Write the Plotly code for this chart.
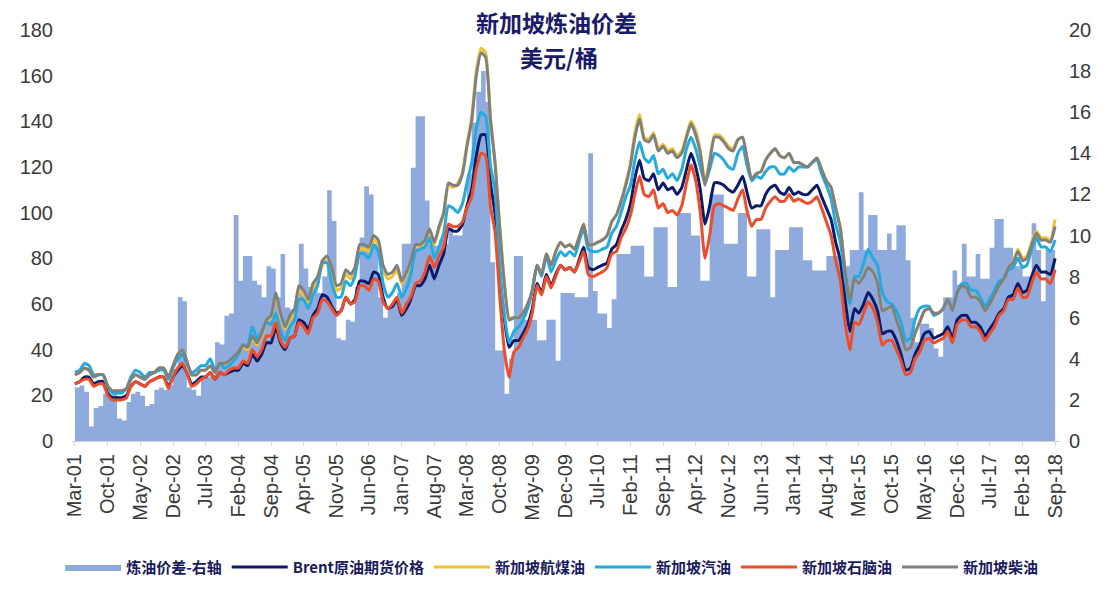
import pandas as pd
import plotly.graph_objects as go

# ---------------- data (monthly, Mar-2001 .. Sep-2018) ----------------
start_month = "2001-03-01"
n_months = 211

spread = [  # 炼油价差 (right axis, USD/bbl)
    2.6, 2.7, 2.4, 0.7, 1.6, 1.7, 2.3, 2.2, 2.3, 1.1,
    1.0, 1.9, 2.3, 2.4, 2.2, 1.7, 1.8, 2.5, 2.6, 2.5, 2.7, 3.5,
    7.0, 6.8, 2.6, 2.5, 2.2, 3.0, 3.1, 3.2, 4.8, 4.7, 6.1, 6.2,
    11.0, 7.8, 9.0, 9.0, 7.8, 7.6, 7.0, 8.5, 8.4, 7.0, 9.1, 6.5,
    6.4, 6.6, 9.6, 8.4, 7.5, 7.5, 7.2, 8.0, 12.2, 10.7, 5.0, 4.9,
    5.9, 5.8, 7.5, 9.9, 12.4, 12.0, 9.6, 7.0, 6.0, 6.5, 6.8, 7.2,
    9.6, 9.6, 13.3, 15.8, 15.8, 11.7, 9.6, 9.5, 9.8, 9.6, 10.5, 10.0,
    10.0, 11.0, 13.0, 15.5, 17.0, 18.0, 16.5, 8.7, 4.4, 4.4, 2.3, 4.0,
    9.0, 9.0, 5.9, 5.9, 5.9, 4.9, 4.9, 5.9, 5.9, 3.9, 7.2, 7.2,
    7.2, 7.0, 7.0, 7.0, 14.0, 7.3, 6.2, 6.2, 5.5, 6.9, 9.1, 9.1,
    9.1, 9.5, 9.5, 9.5, 8.0, 8.0, 10.4, 10.4, 10.4, 7.5, 7.5, 11.1,
    11.1, 11.1, 10.0, 10.0, 7.8, 7.8, 12.0, 12.0, 12.0, 9.6, 9.6, 9.6,
    11.1, 11.1, 8.0, 8.0, 10.3, 10.3, 10.3, 7.0, 9.3, 9.3, 9.3, 10.4,
    10.4, 10.4, 8.8, 8.8, 8.3, 8.3, 8.3, 9.0, 9.0, 9.0, 9.0, 8.5,
    9.3, 9.3, 12.1, 9.3, 11.0, 11.0, 9.3, 9.3, 10.1, 9.3, 10.5, 10.5,
    8.8, 6.0, 4.8, 5.7, 5.7, 5.5, 4.5, 4.1, 7.0, 7.0, 8.3, 7.6,
    9.6, 8.0, 8.0, 9.1, 7.9, 7.9, 9.4, 10.8, 10.8, 9.4, 9.4, 8.5,
    8.5, 8.0, 8.0, 10.6, 9.3, 6.8, 9.3, 9.3, 12.8,
]

brent = [  # Brent原油期货价格
    25, 26, 28, 28, 25, 26, 26, 21, 19, 19,
    19, 20, 24, 26, 25, 24, 26, 27, 28, 28, 24, 28,
    31, 33, 30, 25, 26, 28, 28, 30, 27, 30, 29, 30,
    31, 31, 34, 33, 38, 35, 38, 43, 43, 50, 43, 40,
    45, 46, 53, 52, 49, 55, 58, 64, 63, 59, 56, 57,
    63, 60, 62, 70, 70, 69, 74, 73, 63, 58, 59, 62,
    55, 58, 62, 68, 68, 71, 77, 71, 77, 82, 93, 92,
    92, 95, 103, 110, 125, 134, 134, 113, 99, 73, 53, 41,
    44, 44, 47, 51, 58, 69, 65, 73, 68, 73, 77, 75,
    76, 74, 79, 85, 76, 75, 76, 77, 78, 84, 86, 92,
    97, 104, 115, 123, 115, 114, 117, 110, 113, 110, 111, 108,
    111, 119, 126, 120, 110, 95, 103, 113, 113, 112, 110, 109,
    112, 116, 109, 102, 103, 103, 108, 111, 112, 109, 108, 111,
    108, 109, 108, 108, 110, 112, 107, 102, 97, 87, 79, 62,
    48, 58, 56, 60, 65, 62, 57, 47, 48, 48, 44, 38,
    31, 32, 38, 42, 47, 48, 45, 46, 47, 50, 45, 53,
    55, 55, 52, 52, 50, 46, 49, 52, 56, 58, 63, 64,
    69, 65, 66, 72, 77, 74, 74, 73, 80,
]

jet = [  # 新加坡航煤油
    29, 30, 32, 31, 28, 29, 29, 24, 22, 22,
    22, 23, 27, 29, 28, 27, 29, 30, 32, 32, 28, 33,
    38, 40, 35, 29, 29, 31, 31, 33, 30, 34, 34, 35,
    36, 38, 41, 40, 45, 42, 46, 52, 54, 64, 55, 49,
    53, 56, 66, 64, 60, 67, 70, 77, 79, 74, 66, 67,
    73, 71, 74, 84, 84, 83, 88, 86, 75, 71, 72, 75,
    69, 73, 78, 85, 85, 87, 92, 86, 93, 99, 112, 111,
    113, 118, 130, 142, 162, 172, 170, 142, 122, 94, 69, 54,
    54, 54, 56, 60, 66, 77, 73, 82, 77, 83, 87, 85,
    86, 84, 89, 95, 86, 86, 87, 88, 90, 96, 99, 105,
    113, 122, 135, 143, 133, 132, 135, 128, 130, 127, 128, 125,
    127, 134, 140, 136, 127, 113, 123, 134, 134, 132, 129, 128,
    132, 133, 124, 115, 117, 118, 123, 126, 128, 125, 124, 126,
    122, 122, 121, 120, 122, 124, 119, 114, 111, 102, 93, 75,
    62, 71, 69, 72, 76, 74, 69, 57, 58, 59, 53, 47,
    40, 41, 47, 52, 57, 58, 56, 56, 58, 62, 57, 65,
    68, 67, 63, 63, 61, 57, 60, 64, 68, 71, 76, 78,
    84, 80, 81, 87, 92, 89, 89, 88, 97,
]

gasoline = [  # 新加坡汽油
    30, 31, 34, 33, 29, 29, 29, 24, 21, 21,
    21, 23, 28, 31, 30, 28, 30, 30, 31, 31, 27, 32,
    36, 38, 34, 30, 31, 33, 33, 36, 31, 34, 32, 33,
    35, 38, 42, 42, 50, 45, 48, 52, 51, 56, 48, 44,
    50, 53, 62, 62, 58, 64, 68, 78, 78, 69, 63, 63,
    70, 68, 72, 82, 82, 80, 86, 83, 69, 63, 65, 69,
    63, 67, 73, 83, 84, 85, 89, 80, 85, 91, 103, 102,
    100, 104, 113, 122, 137, 144, 142, 121, 109, 76, 55, 43,
    48, 50, 53, 58, 66, 77, 72, 81, 74, 79, 83, 81,
    83, 81, 87, 93, 84, 83, 83, 84, 85, 91, 94, 100,
    107, 112, 123, 131, 124, 122, 125, 117, 119, 115, 117, 114,
    119, 128, 133, 128, 120, 113, 119, 126, 125, 123, 120, 119,
    126, 129, 121, 114, 116, 115, 118, 120, 120, 117, 117, 120,
    118, 120, 120, 120, 122, 123, 117, 112, 106, 95, 87, 71,
    60, 72, 72, 78, 84, 80, 77, 65, 61, 60, 57, 52,
    44, 45, 53, 58, 59, 59, 55, 56, 58, 62, 58, 65,
    69, 69, 66, 66, 63, 59, 62, 66, 70, 71, 75, 76,
    80, 76, 77, 84, 89, 85, 85, 83, 88,
]

naphtha = [  # 新加坡石脑油
    25, 26, 27, 27, 24, 25, 25, 20, 18, 18,
    18, 19, 24, 26, 25, 24, 26, 27, 28, 28, 23, 28,
    32, 34, 30, 24, 25, 27, 28, 30, 27, 30, 29, 31,
    32, 32, 35, 34, 40, 37, 40, 46, 46, 52, 44, 41,
    45, 46, 52, 50, 47, 54, 56, 62, 61, 58, 55, 57,
    63, 60, 61, 68, 68, 66, 71, 70, 61, 58, 60, 63,
    56, 60, 63, 69, 70, 74, 81, 76, 81, 85, 95, 94,
    94, 96, 102, 107, 119, 126, 125, 103, 91, 63, 39, 28,
    39, 41, 45, 49, 56, 68, 64, 72, 67, 72, 77, 75,
    76, 74, 78, 83, 73, 72, 73, 74, 76, 82, 83, 89,
    93, 99, 108, 116, 108, 107, 110, 102, 104, 100, 101, 99,
    103, 113, 121, 114, 100, 80, 90, 103, 104, 103, 102, 101,
    106, 110, 101, 94, 97, 97, 102, 105, 107, 105, 105, 108,
    105, 106, 105, 104, 105, 107, 102, 96, 90, 79, 70, 52,
    40, 52, 51, 56, 61, 58, 52, 42, 44, 44, 40, 35,
    29, 30, 36, 39, 44, 45, 43, 44, 45, 48, 43, 51,
    53, 53, 50, 50, 48, 44, 47, 50, 55, 57, 62, 62,
    67, 63, 63, 69, 74, 71, 71, 69, 75,
]

diesel = [  # 新加坡柴油
    29, 30, 32, 31, 28, 29, 29, 24, 22, 22,
    22, 23, 27, 29, 28, 27, 29, 30, 32, 32, 28, 33,
    38, 40, 35, 29, 29, 31, 31, 33, 30, 34, 34, 35,
    37, 39, 42, 41, 46, 43, 47, 53, 55, 65, 56, 50,
    55, 58, 68, 66, 62, 69, 72, 79, 81, 76, 68, 69,
    75, 73, 76, 86, 86, 85, 90, 88, 77, 73, 74, 77,
    70, 74, 79, 86, 86, 88, 93, 87, 94, 100, 113, 112,
    112, 117, 129, 140, 160, 170, 168, 141, 121, 93, 68, 53,
    54, 54, 56, 60, 66, 77, 73, 82, 77, 83, 87, 85,
    86, 84, 89, 95, 86, 86, 87, 88, 90, 96, 99, 105,
    112, 121, 133, 141, 132, 131, 134, 127, 129, 126, 127, 124,
    126, 133, 139, 134, 126, 112, 122, 133, 133, 131, 128, 127,
    132, 133, 124, 115, 117, 118, 123, 126, 128, 125, 124, 126,
    122, 122, 121, 120, 122, 124, 119, 114, 111, 102, 93, 75,
    62, 71, 69, 72, 76, 74, 69, 57, 58, 59, 53, 47,
    40, 41, 47, 52, 57, 58, 56, 56, 58, 62, 57, 65,
    68, 67, 63, 63, 61, 57, 60, 64, 68, 71, 76, 78,
    83, 79, 80, 86, 91, 88, 88, 87, 94,
]

tick_labels = [
    "Mar-01", "Oct-01", "May-02", "Dec-02", "Jul-03", "Feb-04", "Sep-04",
    "Apr-05", "Nov-05", "Jun-06", "Jan-07", "Aug-07", "Mar-08", "Oct-08",
    "May-09", "Dec-09", "Jul-10", "Feb-11", "Sep-11", "Apr-12", "Nov-12",
    "Jun-13", "Jan-14", "Aug-14", "Mar-15", "Oct-15", "May-16", "Dec-16",
    "Jul-17", "Feb-18", "Sep-18",
]

series_names = ["炼油价差-右轴", "Brent原油期货价格", "新加坡航煤油",
                "新加坡汽油", "新加坡石脑油", "新加坡柴油"]
colors = ["#8FAADC", "#0C1A6B", "#F2C230", "#23AADF", "#EE4D2A", "#80807E"]

# ---------------- figure ----------------
months = pd.date_range(start_month, periods=n_months, freq="MS")
tick_vals = [pd.to_datetime(t, format="%b-%y") for t in tick_labels]

fig = go.Figure()

fig.add_trace(go.Scatter(
    x=months, y=spread, name=series_names[0], yaxis="y",
    mode="lines", line=dict(width=0, shape="hv", color=colors[0]),
    fill="tozeroy", fillcolor=colors[0],
))

for name, vals, col in zip(series_names[1:],
                           [brent, jet, gasoline, naphtha, diesel],
                           colors[1:]):
    fig.add_trace(go.Scatter(
        x=months, y=vals, name=name, yaxis="y2", mode="lines",
        line=dict(color=col, width=3, shape="spline", smoothing=0.5),
    ))

tick_font = dict(family="Liberation Sans, Arial, sans-serif", size=20, color="#3a3a3a")

fig.update_layout(
    width=1120, height=602,
    margin=dict(l=72, r=60, t=30, b=161),
    paper_bgcolor="white", plot_bgcolor="white",
    showlegend=True,
    xaxis=dict(
        type="date",
        range=["2001-02-10", "2018-10-03"],
        tickvals=tick_vals, ticktext=tick_labels, tickangle=-90,
        tickfont=tick_font,
        showgrid=False, zeroline=False,
        showline=True, linecolor="#d0d0d0", linewidth=1,
        ticks="outside", ticklen=4, tickcolor="#d8d8d8",
    ),
    yaxis=dict(
        side="right", range=[0, 20], dtick=2,
        showgrid=False, zeroline=False, showline=False,
        tickfont=tick_font, ticks="", ticklabelstandoff=8,
    ),
    yaxis2=dict(
        overlaying="y", side="left", range=[0, 180], dtick=20,
        showgrid=False, zeroline=False, showline=False,
        tickfont=tick_font, ticks="", ticklabelstandoff=18,
    ),
    legend=dict(
        orientation="h", x=-0.012, xanchor="left", y=-0.307, yanchor="middle",
        font=dict(family="Noto Sans CJK SC", size=15, color="#1a1a5e", weight="bold"),
        bgcolor="rgba(0,0,0,0)", itemwidth=56,
    ),
    annotations=[
        dict(text="<b>新加坡炼油价差</b>", xref="paper", yref="paper",
             x=0.49, y=1.0195, xanchor="center", yanchor="middle", showarrow=False,
             font=dict(family="Noto Sans CJK SC", size=23, color="#1b1b6b")),
        dict(text="<b>美元/桶</b>", xref="paper", yref="paper",
             x=0.493, y=0.934, xanchor="center", yanchor="middle", showarrow=False,
             font=dict(family="Noto Sans CJK SC", size=23, color="#1b1b6b")),
    ],
)

fig.write_html("out.html")
